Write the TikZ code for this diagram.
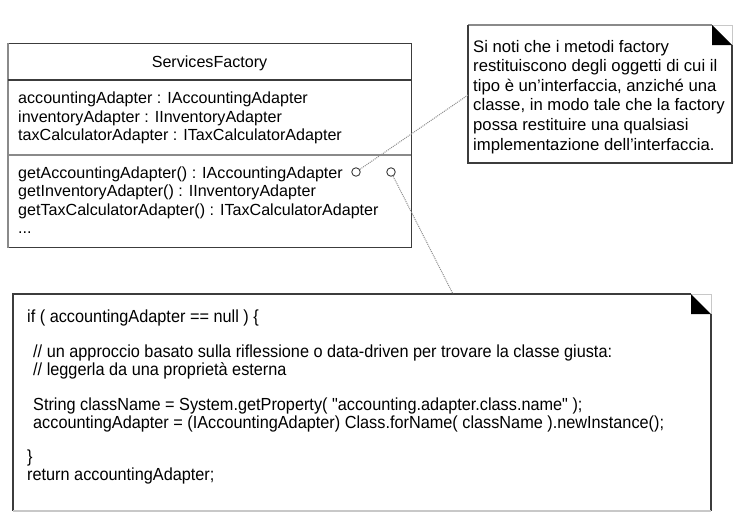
\documentclass[tikz,border=0pt]{standalone}
\usepackage{fontspec}
\setmainfont{Liberation Sans}
\newfontfamily\codefont[FakeStretch=0.93]{Liberation Sans}
\definecolor{edge}{HTML}{3C3C3C}
\definecolor{edgelight}{HTML}{8A8A8A}
\definecolor{edgepale}{HTML}{C8C8C8}
\definecolor{dotc}{HTML}{8C8C8C}
\tikzset{
  clsline/.style={inner sep=0pt, anchor=base west, font=\fontsize{16.1}{19.5}\selectfont},
  clstitle/.style={inner sep=0pt, anchor=base, font=\fontsize{16.1}{19.5}\selectfont},
  noteline/.style={inner sep=0pt, anchor=base west, font=\fontsize{16.7}{19.5}\selectfont},
  codeline/.style={inner sep=0pt, anchor=base west, font=\codefont\fontsize{17.5}{17.5}\selectfont},
  boxedge/.style={draw=edge, line width=1.2pt},
  anchorcirc/.style={circle, draw=edge, line width=0.9pt, fill=white, minimum size=8.5pt, inner sep=0pt},
  notelink/.style={draw=dotc, line width=1pt, dash pattern=on 1pt off 1pt},
}
\begin{document}
\begin{tikzpicture}[x=1pt, y=-1pt]
\useasboundingbox (0,0) rectangle (742,523);
% ---------------- class box ----------------
\node[boxedge, rectangle, minimum width=403pt, minimum height=204pt, anchor=north west, inner sep=0pt] (cls) at (8,43) {};
\draw[edgelight, line width=1.6pt] (cls.north west) -- (cls.south west);
\draw[edge, line width=1.4pt] (8,80) -- (411,80);
\draw[edgelight, line width=2pt] (8,155) -- (411,155);
\node[clstitle] (title) at (209.5,67.5) {ServicesFactory};
\node[clsline] (attr1) at (18,103.5) {accountingAdapter : IAccountingAdapter};
\node[clsline] (attr2) at (18,122) {inventoryAdapter : IInventoryAdapter};
\node[clsline] (attr3) at (18,140.5) {taxCalculatorAdapter : ITaxCalculatorAdapter};
\node[clsline] (meth1) at (18,178) {getAccountingAdapter() : IAccountingAdapter};
\node[clsline] (meth2) at (18,196.5) {getInventoryAdapter() : IInventoryAdapter};
\node[clsline] (meth3) at (18,215) {getTaxCalculatorAdapter() : ITaxCalculatorAdapter};
\node[clsline] (meth4) at (18,233.5) {...};
% ---------------- note box ----------------
\coordinate (nTL) at (468,25);
\coordinate (nTR) at (732,25);
\coordinate (nBR) at (732,163);
\coordinate (nBL) at (468,163);
\draw[edgelight, line width=1.2pt] (nTL) -- (712,25);
\draw[edge, line width=1.2pt] (nTL) -- (nBL) -- (nBR) -- (732,45);
\draw[edgepale, line width=1pt] (712,25) -- (nTR) -- (732,45);
\fill[black] (712,25) -- (732,45) -- (712,45) -- cycle;
\node[noteline] (note1) at (473,52) {Si noti che i metodi factory};
\node[noteline] (note2) at (473,71.6) {restituiscono degli oggetti di cui il};
\node[noteline] (note3) at (473,91.2) {tipo è un’interfaccia, anziché una};
\node[noteline] (note4) at (473,110.8) {classe, in modo tale che la factory};
\node[noteline] (note5) at (473,130.4) {possa restituire una qualsiasi};
\node[noteline] (note6) at (473,150) {implementazione dell’interfaccia.};
% ---------------- code box ----------------
\coordinate (kTL) at (13,294);
\coordinate (kBL) at (13,511);
\coordinate (kBR) at (711,511);
\draw[edge, line width=1.2pt] (691,294) -- (kTL) -- (kBL);
\draw[edge, line width=1.2pt] (kBR) -- (711,314);
\draw[edgepale, line width=1.2pt] (kBL) -- (kBR);
\draw[edgepale, line width=1pt] (691,294) -- (711,294) -- (711,314);
\fill[black] (691,294) -- (711,314) -- (691,314) -- cycle;
\node[codeline] (k1) at (27,322.5) {if ( accountingAdapter == null ) \{};
\node[codeline] (k2) at (33,357.5) {// un approccio basato sulla riflessione o data-driven per trovare la classe giusta:};
\node[codeline] (k3) at (33,375.5) {// leggerla da una proprietà esterna};
\node[codeline] (k4) at (33,410) {String className = System.getProperty( "accounting.adapter.class.name" );};
\node[codeline] (k5) at (33,428) {accountingAdapter = (IAccountingAdapter) Class.forName( className ).newInstance();};
\node[codeline] (k6) at (27,462.5) {\}};
\node[codeline] (k7) at (27,480.5) {return accountingAdapter;};
% ---------------- anchors and links ----------------
\coordinate (noteEnd) at (468,95);
\coordinate (codeEnd) at (453,294);
\node[anchorcirc] (c1) at (356,172) {};
\node[anchorcirc] (c2) at (391,172) {};
\draw[notelink] (c1) -- (noteEnd);
\draw[notelink] (c2) -- (codeEnd);
\end{tikzpicture}
\end{document}
